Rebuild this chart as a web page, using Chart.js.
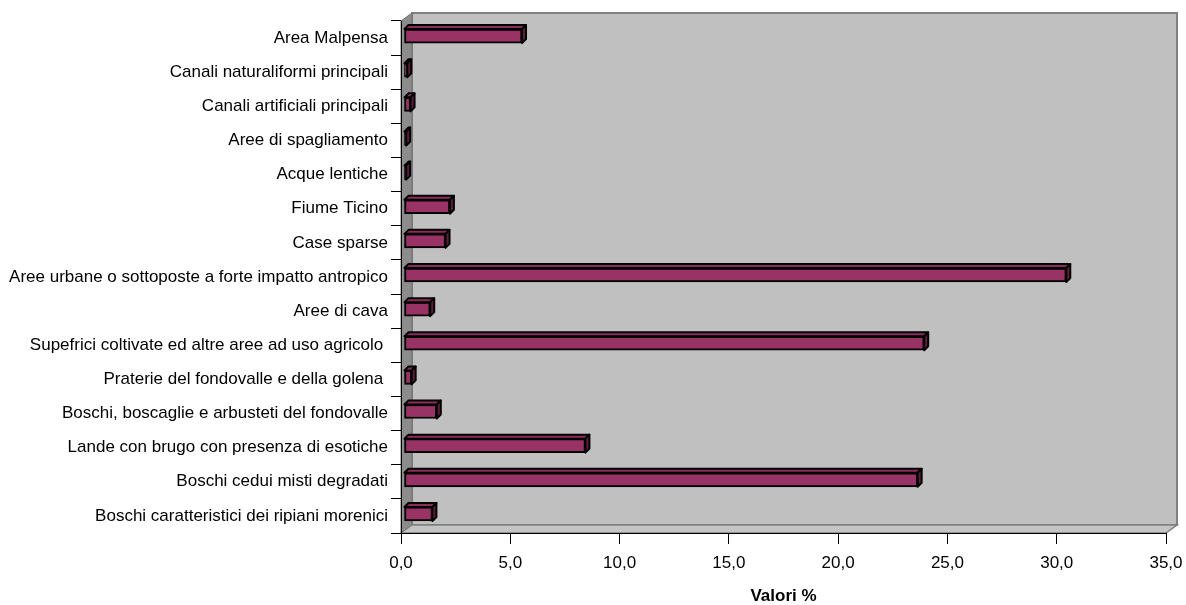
<!DOCTYPE html>
<html lang="it">
<head>
<meta charset="utf-8">
<title>Valori %</title>
<script src="https://cdn.jsdelivr.net/npm/chart.js@4.4.1/dist/chart.umd.min.js"></script>
<style>
  html, body { margin: 0; padding: 0; background: #ffffff; }
  canvas { display: block; }
</style>
</head>
<body>
<canvas id="chart" width="1186" height="605"></canvas>
<script>
// Land-use classes, listed top to bottom
const categories = [
  'Area Malpensa',
  'Canali naturaliformi principali',
  'Canali artificiali principali',
  'Aree di spagliamento',
  'Acque lentiche',
  'Fiume Ticino',
  'Case sparse',
  'Aree urbane o sottoposte a forte impatto antropico',
  'Aree di cava',
  'Supefrici coltivate ed altre aree ad uso agricolo ',
  'Praterie del fondovalle e della golena ',
  'Boschi, boscaglie e arbusteti del fondovalle',
  'Lande con brugo con presenza di esotiche',
  'Boschi cedui misti degradati',
  'Boschi caratteristici dei ripiani morenici'
];

// Share of the total area, percent
const values = [5.4, 0.15, 0.3, 0.1, 0.1, 2.1, 1.9, 30.3, 1.2, 23.8, 0.35, 1.5, 8.3, 23.5, 1.3];

// Value axis ticks
const xMin = 0;
const xMax = 35;
const xStep = 5;
const xTitle = 'Valori %';

const FONT = "'Liberation Sans', Arial, Helvetica, sans-serif";
const WALL_DX = 11, WALL_DY = 8;     // depth of the 3-D box
const BAR_DX = 3, BAR_DY = -2;       // bars sit a little inside the box
const BAR_DEPTH = 4;                 // depth of each 3-D bar

// Back wall, side wall and floor of the 3-D plot area
const walls = {
  id: 'walls',
  beforeDraw(chart) {
    const { ctx, chartArea: a } = chart;
    const L = a.left, R = a.right, T = a.top, B = a.bottom;
    ctx.save();
    ctx.lineJoin = 'miter';
    // back wall
    ctx.fillStyle = '#c0c0c0';
    ctx.strokeStyle = '#808080';
    ctx.lineWidth = 2;
    ctx.fillRect(L + WALL_DX, T - WALL_DY, R - L, B - T);
    ctx.strokeRect(L + WALL_DX, T - WALL_DY, R - L, B - T);
    // side wall
    ctx.beginPath();
    ctx.moveTo(L, T);
    ctx.lineTo(L + WALL_DX, T - WALL_DY);
    ctx.lineTo(L + WALL_DX, B - WALL_DY);
    ctx.lineTo(L, B);
    ctx.closePath();
    ctx.fillStyle = '#8c8c8c';
    ctx.fill();
    ctx.lineWidth = 1;
    ctx.strokeStyle = '#6e6e6e';
    ctx.stroke();
    // floor
    ctx.beginPath();
    ctx.moveTo(L, B);
    ctx.lineTo(L + WALL_DX, B - WALL_DY);
    ctx.lineTo(R + WALL_DX, B - WALL_DY);
    ctx.lineTo(R, B);
    ctx.closePath();
    ctx.fillStyle = '#c4c4c4';
    ctx.fill();
    ctx.strokeStyle = '#808080';
    ctx.lineWidth = 1.5;
    ctx.stroke();
    ctx.restore();
  }
};

// Gives every bar a top and a right face
const bars3d = {
  id: 'bars3d',
  beforeDatasetsDraw(chart) {
    chart.ctx.save();
    chart.ctx.translate(BAR_DX, BAR_DY);
  },
  afterDatasetsDraw(chart) {
    const ctx = chart.ctx;
    ctx.lineWidth = 2;
    ctx.lineJoin = 'round';
    ctx.strokeStyle = '#000000';
    chart.getDatasetMeta(0).data.forEach(el => {
      const p = el.getProps(['x', 'y', 'base', 'height'], true);
      const x0 = Math.min(p.base, p.x), x1 = Math.max(p.base, p.x);
      const y0 = p.y - p.height / 2, y1 = p.y + p.height / 2;
      const d = BAR_DEPTH;
      // top face
      ctx.beginPath();
      ctx.moveTo(x0, y0);
      ctx.lineTo(x0 + d, y0 - d);
      ctx.lineTo(x1 + d, y0 - d);
      ctx.lineTo(x1, y0);
      ctx.closePath();
      ctx.fillStyle = '#8a2d5b';
      ctx.fill();
      ctx.stroke();
      // right face
      ctx.beginPath();
      ctx.moveTo(x1, y0);
      ctx.lineTo(x1 + d, y0 - d);
      ctx.lineTo(x1 + d, y1 - d);
      ctx.lineTo(x1, y1);
      ctx.closePath();
      ctx.fillStyle = '#5e1d3d';
      ctx.fill();
      ctx.stroke();
    });
    ctx.restore();
  }
};

new Chart(document.getElementById('chart'), {
  type: 'bar',
  data: {
    labels: categories,
    datasets: [{
      data: values,
      backgroundColor: '#993366',
      borderColor: '#000000',
      borderWidth: 2,
      borderSkipped: false,
      barThickness: 14
    }]
  },
  options: {
    indexAxis: 'y',
    responsive: false,
    animation: false,
    devicePixelRatio: 1,
    layout: { padding: { top: 21, right: 20, bottom: 0, left: 0 } },
    plugins: {
      legend: { display: false },
      tooltip: { enabled: false },
      title: { display: false }
    },
    scales: {
      x: {
        type: 'linear',
        min: xMin,
        max: xMax,
        afterFit(scale) {
          scale.height = 72;
          scale.paddingLeft = 0;
          scale.paddingRight = 0;
        },
        ticks: {
          stepSize: xStep,
          color: '#000000',
          padding: 9,
          font: { family: FONT, size: 17 },
          callback: v => Number(v).toFixed(1).replace('.', ',')
        },
        grid: {
          drawOnChartArea: false,
          drawTicks: true,
          tickLength: 11,
          tickColor: '#000000',
          tickWidth: 1
        },
        border: { display: true, color: '#000000', width: 1 },
        title: {
          display: true,
          text: xTitle,
          color: '#000000',
          padding: { top: 0, bottom: 0 },
          font: { family: FONT, size: 17, weight: 'bold', lineHeight: 1 }
        }
      },
      y: {
        type: 'category',
        afterFit(scale) {
          scale.width = 401;
          scale.paddingTop = 0;
          scale.paddingBottom = 0;
        },
        ticks: {
          color: '#000000',
          padding: 3,
          autoSkip: false,
          font: { family: FONT, size: 17 }
        },
        grid: {
          offset: true,
          drawOnChartArea: false,
          drawTicks: true,
          tickLength: 10,
          tickColor: '#000000',
          tickWidth: 1
        },
        border: { display: true, color: '#000000', width: 1 }
      }
    }
  },
  plugins: [walls, bars3d]
});
</script>
</body>
</html>
